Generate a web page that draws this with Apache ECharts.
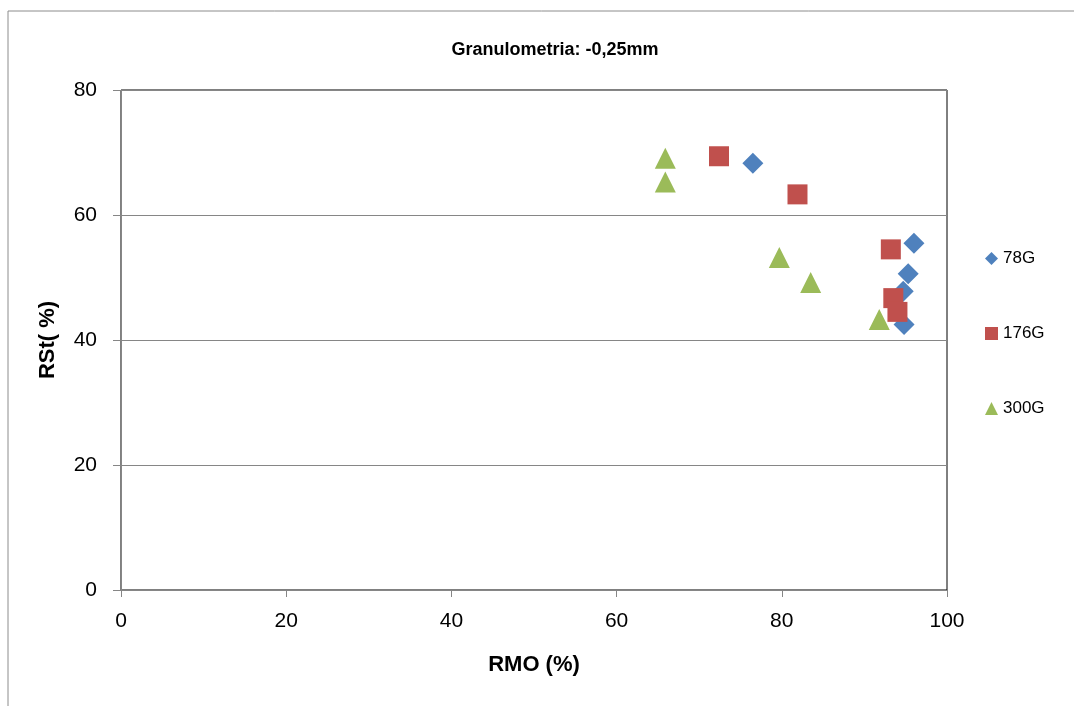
<!DOCTYPE html>
<html><head><meta charset="utf-8">
<script src="https://cdn.jsdelivr.net/npm/echarts@6/dist/echarts.min.js"></script>
<style>html,body{margin:0;padding:0;background:#fff}#c{width:1074px;height:706px}</style>
</head><body><div id="c"></div>
<script>
const titleText = "Granulometria: -0,25mm";
const xName = "RMO (%)";
const yName = "RSt( %)";
const seriesNames = ["78G", "176G", "300G"];
const s78G = [[76.5, 68.3], [96.0, 55.5], [95.3, 50.6], [94.7, 47.8], [94.8, 42.5]];
const s176G = [[72.4, 69.4], [81.9, 63.3], [93.2, 54.5], [93.5, 46.7], [94.0, 44.5]];
const s300G = [[65.9, 69.1], [65.9, 65.3], [79.7, 53.2], [83.5, 49.2], [91.8, 43.3]];
const xTicks = [0, 20, 40, 60, 80, 100];
const yTicks = [0, 20, 40, 60, 80];

const chart = echarts.init(document.getElementById('c'));
const font = '"Liberation Sans", Arial, sans-serif';
chart.setOption({
  animation: false,
  textStyle: {fontFamily: font},
  graphic: [{type: 'rect', shape: {x: 8, y: 11, width: 1200, height: 800}, style: {fill: 'none', stroke: '#8c8c8c', lineWidth: 1}, silent: true}],
  title: {text: titleText, left: 550, top: 36, textAlign: 'center', textStyle: {fontSize: 18, fontWeight: 'bold', color: '#000', fontFamily: font}},
  grid: {left: 121, right: 127, top: 90, bottom: 116, show: true, borderColor: '#000', borderWidth: 1},
  legend: {
    orient: 'vertical', left: 980, top: 245, itemGap: 58, itemWidth: 13, itemHeight: 13,
    textStyle: {fontSize: 17, color: '#000', fontFamily: font},
    data: seriesNames
  },
  xAxis: {
    type: 'value', min: xTicks[0], max: xTicks[xTicks.length - 1], interval: 20,
    name: xName, nameLocation: 'middle', nameGap: 64,
    nameTextStyle: {fontSize: 22, fontWeight: 'bold', color: '#000'},
    axisLine: {show: true, lineStyle: {color: '#868686'}},
    axisTick: {show: true, length: 7, lineStyle: {color: '#868686'}},
    axisLabel: {fontSize: 21, color: '#000', margin: 21},
    splitLine: {show: false}
  },
  yAxis: {
    type: 'value', min: yTicks[0], max: yTicks[yTicks.length - 1], interval: 20,
    name: yName, nameLocation: 'middle', nameGap: 62, nameRotate: 90,
    nameTextStyle: {fontSize: 22, fontWeight: 'bold', color: '#000'},
    axisLine: {show: true, lineStyle: {color: '#868686'}},
    axisTick: {show: true, length: 8, lineStyle: {color: '#868686'}},
    axisLabel: {fontSize: 21, color: '#000', margin: 24},
    splitLine: {show: true, lineStyle: {color: '#868686', width: 1}}
  },
  series: [
    {name: seriesNames[0], type: 'scatter', symbol: 'diamond', symbolSize: 21, data: s78G, itemStyle: {color: '#4F81BD', opacity: 1}},
    {name: seriesNames[1], type: 'scatter', symbol: 'rect', symbolSize: 20, data: s176G, itemStyle: {color: '#C0504D', opacity: 1}},
    {name: seriesNames[2], type: 'scatter', symbol: 'triangle', symbolSize: 21, data: s300G, itemStyle: {color: '#9BBB59', opacity: 1}}
  ]
});
</script></body></html>
